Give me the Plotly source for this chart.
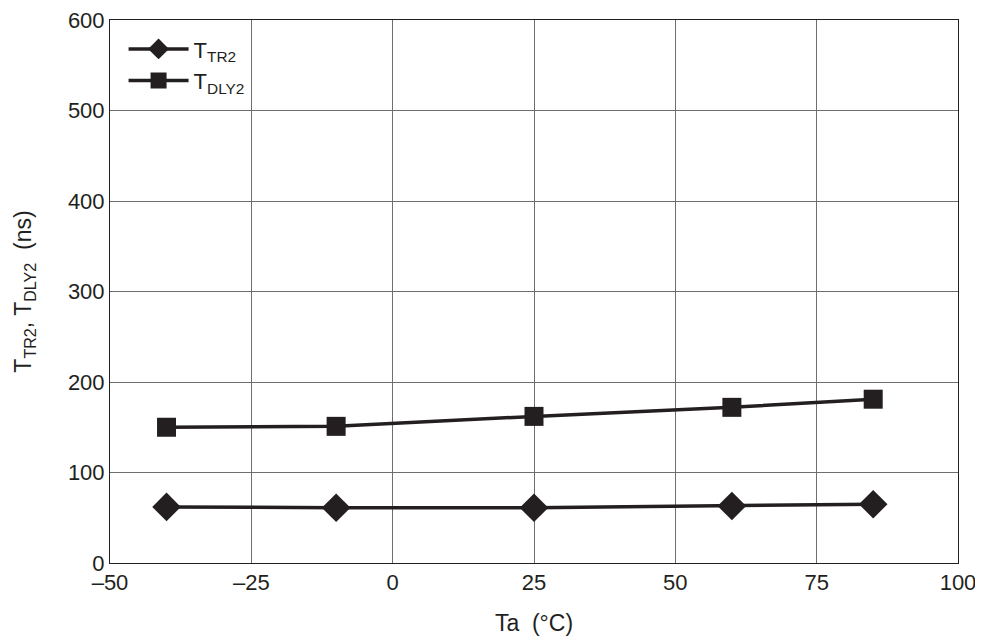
import plotly.graph_objects as go

temps = [-40, -10, 25, 60, 85]
t_tr2 = [62, 61, 61, 63, 65]
t_dly2 = [150, 151, 162, 172, 181]
x_ticks = [-50, -25, 0, 25, 50, 75, 100]
x_ticktext = ["\u201350", "\u201325", "0", "25", "50", "75", "100"]
y_ticks = [0, 100, 200, 300, 400, 500, 600]

fig = go.Figure()
fig.add_trace(go.Scatter(
    x=temps, y=t_tr2, mode="lines+markers", name="T<sub>TR2</sub>",
    line=dict(color="#231f20", width=3.5),
    marker=dict(symbol="diamond", size=22, color="#231f20")))
fig.add_trace(go.Scatter(
    x=temps, y=t_dly2, mode="lines+markers", name="T<sub>DLY2</sub>",
    line=dict(color="#231f20", width=3.5),
    marker=dict(symbol="square", size=19, color="#231f20")))

axis_common = dict(showline=True, linecolor="#231f20", linewidth=1, mirror=True,
                   showgrid=True, gridcolor="#6e6e6e", gridwidth=1, zeroline=False,
                   ticks="", tickfont=dict(size=22, color="#231f20"),
                   ticklabeloverflow="allow")
fig.update_xaxes(range=[-50, 100], tickvals=x_ticks, ticktext=x_ticktext,
                 title=dict(text="Ta\u00a0\u00a0(°C)", font=dict(size=23, color="#231f20"), standoff=20),
                 **axis_common)
fig.update_yaxes(range=[0, 600], tickvals=y_ticks,
                 title=dict(text="T<sub>TR2</sub>, T<sub>DLY2</sub>\u00a0\u00a0(ns)", font=dict(size=23, color="#231f20"), standoff=29),
                 **axis_common)
fig.update_layout(
    width=975, height=636, template="none",
    paper_bgcolor="white", plot_bgcolor="white",
    font=dict(family="Liberation Sans, Arial, sans-serif", color="#231f20"),
    margin=dict(l=102, r=25, t=12, b=81),
    legend=dict(x=0.016, y=0.985, xanchor="left", yanchor="top",
                bgcolor="rgba(255,255,255,0)", font=dict(size=22), itemwidth=60,
                tracegroupgap=0),
    showlegend=True,
)
fig.write_html("out.html")
